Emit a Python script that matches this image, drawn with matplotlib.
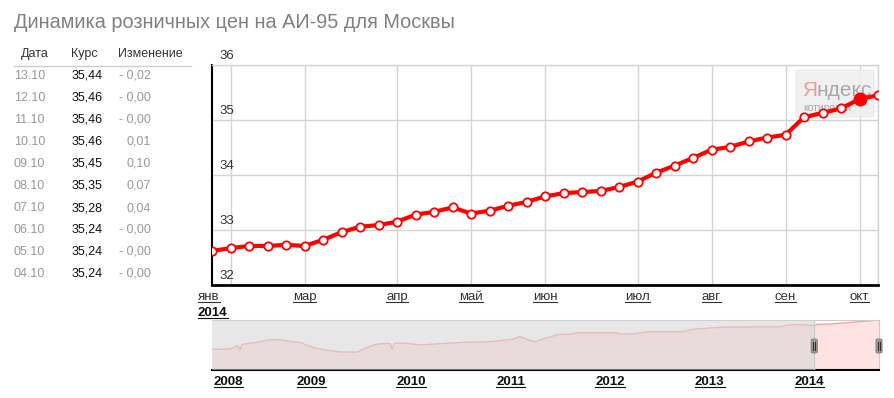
import matplotlib
matplotlib.use("Agg")
import matplotlib.pyplot as plt
from matplotlib.transforms import blended_transform_factory
from matplotlib.lines import Line2D
from matplotlib.patches import FancyBboxPatch, Rectangle

plt.rcParams["font.family"] = ["Liberation Sans", "DejaVu Sans"]

W, H = 894, 398

title = "Динамика розничных цен на АИ-95 для Москвы"

# table on the left
tbl_header = ["Дата", "Курс", "Изменение"]
tbl_dates = ["13.10", "12.10", "11.10", "10.10", "09.10", "08.10", "07.10", "06.10", "05.10", "04.10"]
tbl_rates = ["35,44", "35,46", "35,46", "35,46", "35,45", "35,35", "35,28", "35,24", "35,24", "35,24"]
tbl_changes = ["- 0,02", "- 0,00", "- 0,00", "0,01", "0,10", "0,07", "0,04", "- 0,00", "- 0,00", "- 0,00"]

# main chart, one point per week, Jan - Oct 2014
prices = [32.62, 32.67, 32.71, 32.71, 32.73, 32.71, 32.82, 32.96, 33.06, 33.09,
          33.15, 33.28, 33.33, 33.41, 33.30, 33.35, 33.44, 33.51, 33.61, 33.67,
          33.69, 33.71, 33.78, 33.88, 34.04, 34.17, 34.31, 34.46, 34.51, 34.61,
          34.68, 34.73, 35.05, 35.13, 35.21, 35.38, 35.45]
selected = 35
month_pos = [5, 10, 14, 18, 23, 27, 31, 35]
month_names = ["мар", "апр", "май", "июн", "июл", "авг", "сен", "окт"]
y_ticks = [32, 33, 34, 35, 36]

# navigator, 2008 - 2014
nav_years = [2008.00, 2008.18, 2008.26, 2008.28, 2008.30, 2008.33, 2008.45, 2008.58,
             2008.68, 2008.81, 2008.88, 2008.95, 2009.05, 2009.19, 2009.29, 2009.46,
             2009.52, 2009.62, 2009.69, 2009.79, 2009.81, 2009.83, 2009.86, 2009.96,
             2010.09, 2010.29, 2010.52, 2010.79, 2011.02, 2011.09, 2011.24, 2011.35,
             2011.48, 2011.60, 2011.67, 2012.07, 2012.08, 2012.23, 2012.37, 2012.73,
             2012.83, 2013.10, 2013.71, 2013.79, 2013.95, 2014.05, 2014.08, 2014.21,
             2014.38, 2014.58, 2014.70]
nav_values = [20.8, 20.95, 22.5, 20.5, 23.0, 23.45, 24.3, 25.6,
              25.6, 24.6, 24.3, 22.95, 21.3, 20.1, 19.45, 19.45,
              20.8, 22.95, 23.6, 23.7, 20.9, 23.8, 23.95, 23.8,
              22.95, 23.6, 24.3, 24.6, 25.8, 27.1, 24.6, 26.3,
              28.3, 28.3, 29.1, 29.1, 28.45, 28.45, 29.6, 29.6,
              30.8, 31.8, 32.1, 33.1, 33.1, 32.6, 33.3, 33.45,
              34.1, 34.95, 35.45]
nav_year_labels = ["2008", "2009", "2010", "2011", "2012", "2013", "2014"]
sel_start = 2014.05


def fx(x):
    return x / W


def fy(y):
    return 1 - y / H


fig = plt.figure(figsize=(W / 100, H / 100), dpi=100)
underlined = []

fig.text(fx(14), fy(22), title, fontsize=14.3, color="#808080", va="center")

# table
fig.text(fx(21), fy(54), tbl_header[0], fontsize=9, color="#333333", va="center")
fig.text(fx(71), fy(54), tbl_header[1], fontsize=9, color="#333333", va="center")
fig.text(fx(118), fy(54), tbl_header[2], fontsize=9, color="#333333", va="center")
fig.add_artist(Line2D([fx(14), fx(191)], [fy(66), fy(66)], color="#cccccc", lw=1))
for i in range(len(tbl_dates)):
    y = fy(76 + i * 22)
    fig.text(fx(14), y, tbl_dates[i], fontsize=9, color="#999999", va="center")
    fig.text(fx(72), y, tbl_rates[i], fontsize=9, color="#111111", va="center")
    fig.text(fx(151), y, tbl_changes[i], fontsize=9, color="#999999", va="center", ha="right")

# main chart
ax = fig.add_axes([fx(212), fy(285), 666 / W, 220 / H])
x = list(range(len(prices)))
ax.plot(x, prices, color="#ff0000", lw=3, marker="o", ms=6, mfc="white",
        mec="#ff0000", mew=1.3, zorder=3)
ax.plot(x[selected], prices[selected], "o", color="#ff0000", ms=9, zorder=4)
ax.set_xlim(0, len(prices) - 1)
ax.set_ylim(32, 36)
ax.set_xticks([1] + month_pos + [len(prices) - 1])
ax.set_yticks(y_ticks)
ax.tick_params(length=0, labelbottom=False, labelleft=False)
ax.grid(color="#d4d4d4", lw=1)
ax.set_axisbelow(True)
for s in ["top", "right"]:
    ax.spines[s].set_color("#d4d4d4")
    ax.spines[s].set_linewidth(1)
ax.spines["left"].set_linewidth(1.5)
ax.spines["bottom"].set_linewidth(2)

for v in y_ticks:
    fig.text(fx(219), fy(65 + (36 - v) * 55 - 9), str(v), fontsize=9.5,
             color="#333333", va="center")

trans = blended_transform_factory(ax.transData, fig.transFigure)
for p, name in zip(month_pos, month_names):
    t = ax.text(p, fy(300), name, transform=trans, fontsize=9.5, color="#333333",
                ha="center", va="baseline")
    underlined.append(t)
t = fig.text(fx(198), fy(300), "янв", fontsize=9.5, color="#333333", va="baseline")
underlined.append(t)
t = fig.text(fx(198), fy(316), "2014", fontsize=9.5, color="#111111",
             fontweight="bold", va="baseline")
underlined.append(t)

# watermark
ax.add_patch(FancyBboxPatch((fx(795), fy(118)), fx(80), 49 / H,
                            boxstyle="round,pad=0,rounding_size=0.006",
                            transform=fig.transFigure, facecolor="#eeeeee",
                            edgecolor="none", alpha=0.85, zorder=2, clip_on=False))
ya = ax.text(fx(802), fy(91), "Я", transform=fig.transFigure, fontsize=15,
             color="#f29a9a", va="center", zorder=2)
ax.text(fx(803), fy(108), "котировки", transform=fig.transFigure, fontsize=7.5,
        color="#a8a8a8", va="center", zorder=2)

# navigator
nav = fig.add_axes([fx(212), fy(370), 667 / W, 50 / H])
nav.set_xlim(nav_years[0], nav_years[-1])
nav.set_ylim(10.45, 35.45)
nav.fill_between(nav_years, nav_values, 0, color="#ffe3e3", lw=0, zorder=1)
nav.plot(nav_years, nav_values, color="#f7a0a0", lw=1, zorder=2)
nav.add_patch(Rectangle((nav_years[0], 0), sel_start - nav_years[0], 40,
                        facecolor="#d5d5d5", alpha=0.55, lw=0, zorder=3))
nav.axvline(sel_start, color="#cccccc", lw=1, zorder=4)
nav.set_xticks([])
nav.set_yticks([])
nav.spines["left"].set_visible(False)
nav.spines["top"].set_color("#cccccc")
nav.spines["right"].set_color("#cccccc")
nav.spines["bottom"].set_linewidth(1.5)

for hx in [sel_start, nav_years[-1]]:
    xp = 212 + (hx - nav_years[0]) / (nav_years[-1] - nav_years[0]) * 667
    fig.add_artist(FancyBboxPatch((fx(xp - 3), fy(353)), 6 / W, 14 / H,
                                  boxstyle="round,pad=0,rounding_size=0.003",
                                  facecolor="#9a9a9a", edgecolor="#888888", lw=0.8))
    for dx in [-0.8, 0.8]:
        fig.add_artist(Line2D([fx(xp + dx), fx(xp + dx)], [fy(350), fy(342)],
                              color="#333333", lw=0.8))

ntrans = blended_transform_factory(nav.transData, fig.transFigure)
for i, lab in enumerate(nav_year_labels):
    if i == 0:
        t = fig.text(fx(214), fy(385), lab, fontsize=9.5, color="#111111",
                     fontweight="bold", va="baseline")
    else:
        t = nav.text(2008 + i, fy(385), lab, transform=ntrans, fontsize=9.5,
                     color="#111111", fontweight="bold", ha="center", va="baseline")
    underlined.append(t)

# underline the link-like labels, place the rest of the watermark word
fig.canvas.draw()
r = fig.canvas.get_renderer()
bb = ya.get_window_extent(r)
ax.text(bb.x1 / W, fy(91), "ндекс", transform=fig.transFigure, fontsize=15,
        color="#a8a8a8", va="center", zorder=2)
for t in underlined:
    bb = t.get_window_extent(r)
    yb = t.get_transform().transform(t.get_position())[1] - 2
    fig.add_artist(Line2D([bb.x0 / W, bb.x1 / W], [yb / H, yb / H],
                          color=t.get_color(), lw=0.8))

fig.savefig("out.png", dpi=100)
